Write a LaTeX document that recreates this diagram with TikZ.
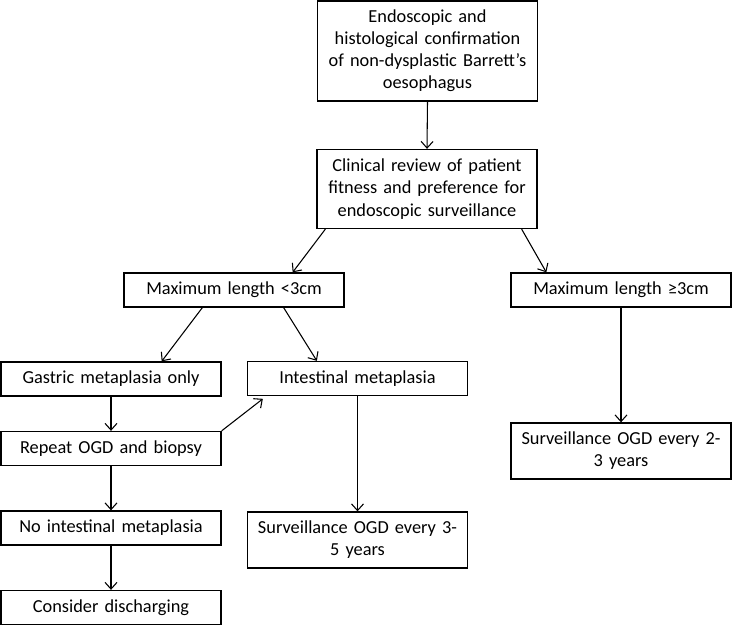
\documentclass[tikz,border=0pt]{standalone}
\usepackage{fontspec}
\setmainfont{Carlito}
\usetikzlibrary{arrows.meta}
\begin{document}
\begin{tikzpicture}[x=0.75pt,y=-0.75pt,
  box/.style={draw,line width=1pt,inner sep=0pt,align=center,
    text width=165pt,minimum height=25.5pt,
    font=\fontsize{13.75}{16.6}\selectfont},
  arr/.style={line width=0.8pt,-{Straight Barb[length=5pt,width=9pt]}}]
  \useasboundingbox (0,0) rectangle (732,625);

  \node[box,minimum height=75pt] (confirm) at (427.5,51) {Endoscopic and\\histological confirmation\\of non-dysplastic Barrett’s\\oesophagus};
  \node[box,minimum height=59.25pt] (review) at (427,189) {Clinical review of patient\\fitness and preference for\\endoscopic surveillance};

  \node[box] (short) at (234,290) {Maximum length <3cm};
  \node[box] (long) at (621,290) {Maximum length ≥3cm};

  \node[box] (gastric) at (111,379) {Gastric metaplasia only};
  \node[box] (intest) at (357.5,378.5) {Intestinal metaplasia};
  \node[box] (repeat) at (111,448.5) {Repeat OGD and biopsy};
  \node[box] (noim) at (111,528) {No intestinal metaplasia};
  \node[box] (discharge) at (111,607.5) {Consider discharging};

  \node[box,minimum height=42pt] (survthree) at (357.5,540) {Surveillance OGD every 3-\\5 years};
  \node[box,minimum height=42pt] (survtwo) at (621,451) {Surveillance OGD every 2-\\3 years};

  \draw[arr] (confirm.south) -- (review.north);
  \draw[arr] ([xshift=6.75pt]review.south west) -- ([xshift=-39pt]short.north east);
  \draw[arr] ([xshift=-12pt]review.south east) -- ([xshift=27pt]long.north west);
  \draw[arr] ([xshift=59.25pt]short.south west) -- ([xshift=38pt]gastric.north);
  \draw[arr] ([xshift=-45.75pt]short.south east) -- ([xshift=52.5pt]intest.north west);
  \draw[arr] (gastric.south) -- (repeat.north);
  \draw[arr] (repeat.north east) -- ([xshift=12pt,yshift=-2pt]intest.south west);
  \draw[arr] (repeat.south) -- (noim.north);
  \draw[arr] (noim.south) -- (discharge.north);
  \draw[arr] (intest.south) -- (survthree.north);
  \draw[arr] (long.south) -- (survtwo.north);
\end{tikzpicture}
\end{document}
